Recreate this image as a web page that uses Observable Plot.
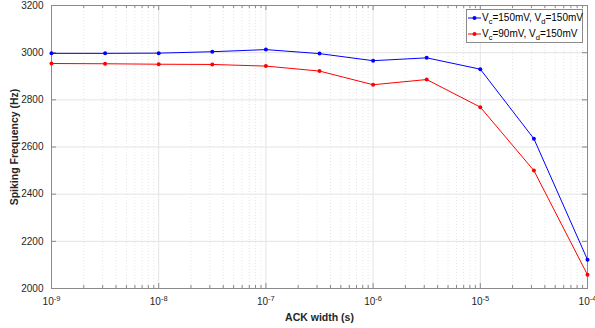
<!DOCTYPE html>
<html><head><meta charset="utf-8">
<script src="https://cdn.jsdelivr.net/npm/d3@7"></script>
<script src="https://cdn.jsdelivr.net/npm/@observablehq/plot@0.6"></script>
<style>
body{margin:0;background:#fff;}
#wrap{position:relative;width:595px;height:328px;font-family:"Liberation Sans",Arial,sans-serif;}
#legend{position:absolute;left:466px;top:9px;width:117px;height:34px;border:1px solid #8a8a8a;background:#fff;box-sizing:border-box;font-size:10px;color:#000;}
#legend .row{position:absolute;left:0;height:14px;line-height:14px;white-space:nowrap;}
#legend svg{position:absolute;left:0;top:0;}
#legend .lbl{position:absolute;left:15px;top:0;}
#legend sub{font-size:7.5px;vertical-align:-3px;line-height:0;}
g[aria-label="x-axis label"] text, g[aria-label="y-axis label"] text{font-weight:bold;font-size:10.5px;}
</style>
</head><body>
<div id="wrap"><div id="chart"></div><div id="legend"></div></div>
<script>
const ackWidth = [1e-9, 3.162e-9, 1e-8, 3.162e-8, 1e-7, 3.162e-7, 1e-6, 3.162e-6, 1e-5, 3.162e-5, 1e-4];
const freqVc150 = [2997, 2997, 2998, 3004, 3013, 2996, 2966, 2978, 2930, 2635, 2122];
const freqVc90 = [2954, 2953, 2951, 2950, 2943, 2922, 2864, 2886, 2769, 2500, 2058];
const seriesNames = ["V_c=150mV, V_d=150mV", "V_c=90mV, V_d=150mV"];
const seriesColors = ["#0000ff", "#ff0000"];
const yTicks = [2000, 2200, 2400, 2600, 2800, 3000, 3200];
const xTickExponents = [-9, -8, -7, -6, -5, -4];
const xLabel = "ACK width (s)";
const yLabel = "Spiking Frequency (Hz)";

const majorX = xTickExponents.map(e => Math.pow(10, e));
const minorX = xTickExponents.slice(0, -1).flatMap(e => d3.range(2, 10).map(m => m * Math.pow(10, e)));
const data = [freqVc150, freqVc90].flatMap((vals, i) => vals.map((v, j) => ({x: ackWidth[j], y: v, s: seriesNames[i]})));

const W = 595, H = 328, mL = 51, mR = 8, mT = 5, mB = 40;
const iw = W - mL - mR, ih = H - mT - mB;
const axisColor = "#8a8a8a";

const chart = Plot.plot({
  width: W, height: H,
  marginLeft: mL, marginRight: mR, marginTop: mT, marginBottom: mB,
  style: {fontFamily: "'Liberation Sans', Arial, sans-serif", fontSize: "10px", color: "#262626", background: "#fff"},
  x: {type: "log", domain: [majorX[0], majorX[majorX.length - 1]]},
  y: {domain: [yTicks[0], yTicks[yTicks.length - 1]]},
  color: {domain: seriesNames, range: seriesColors},
  marks: [
    Plot.gridX(minorX, {stroke: "#e6e6e6", strokeOpacity: 1, strokeDasharray: "1,2"}),
    Plot.gridX(majorX, {stroke: "#e4e4e4", strokeOpacity: 1}),
    Plot.gridY(yTicks, {stroke: "#e4e4e4", strokeOpacity: 1}),
    Plot.tickX(majorX, {x: d => d, stroke: axisColor, insetTop: ih - 5}),
    Plot.tickX(majorX, {x: d => d, stroke: axisColor, insetBottom: ih - 5}),
    Plot.tickX(minorX, {x: d => d, stroke: axisColor, insetTop: ih - 3}),
    Plot.tickX(minorX, {x: d => d, stroke: axisColor, insetBottom: ih - 3}),
    Plot.tickY(yTicks, {y: d => d, stroke: axisColor, insetRight: iw - 5}),
    Plot.tickY(yTicks, {y: d => d, stroke: axisColor, insetLeft: iw - 5}),
    Plot.frame({stroke: axisColor}),
    Plot.line(data, {x: "x", y: "y", z: "s", stroke: "s", strokeWidth: 1}),
    Plot.dot(data, {x: "x", y: "y", fill: "s", r: 2}),
    Plot.axisX(majorX, {tickSize: 0, tickPadding: 9, tickFormat: d => "10^" + Math.round(Math.log10(d)),
      label: xLabel, labelAnchor: "center", labelOffset: 32, labelArrow: "none", fill: "#262626"}),
    Plot.axisY(yTicks, {tickSize: 0, tickPadding: 8, tickFormat: d => String(d), label: yLabel, labelAnchor: "center", labelOffset: 41, labelArrow: "none", fill: "#262626"})
  ]
});
document.getElementById("chart").appendChild(chart);

// superscript exponents
d3.select(chart).selectAll('g[aria-label="x-axis tick label"] text').each(function() {
  const t = this.textContent;
  const parts = t.split("^");
  if (parts.length === 2) {
    const sel = d3.select(this);
    sel.text(parts[0]);
    sel.append("tspan").attr("dy", -4).attr("font-size", 7.5).text(parts[1]);
  }
});

// legend
const lg = d3.select("#legend");
seriesNames.forEach((name, i) => {
  const row = lg.append("div").attr("class", "row").style("top", (i === 0 ? 1 : 17) + "px").style("width", "115px");
  const s = row.append("svg").attr("width", 15).attr("height", 14);
  s.append("line").attr("x1", 1).attr("x2", 14).attr("y1", 7).attr("y2", 7).attr("stroke", seriesColors[i]).attr("stroke-width", 1);
  s.append("circle").attr("cx", 7.5).attr("cy", 7).attr("r", 2).attr("fill", seriesColors[i]);
  const html = name.replace(/_(\w)/g, "<sub>$1</sub>");
  row.append("span").attr("class", "lbl").html(html);
});
</script>
</body></html>
